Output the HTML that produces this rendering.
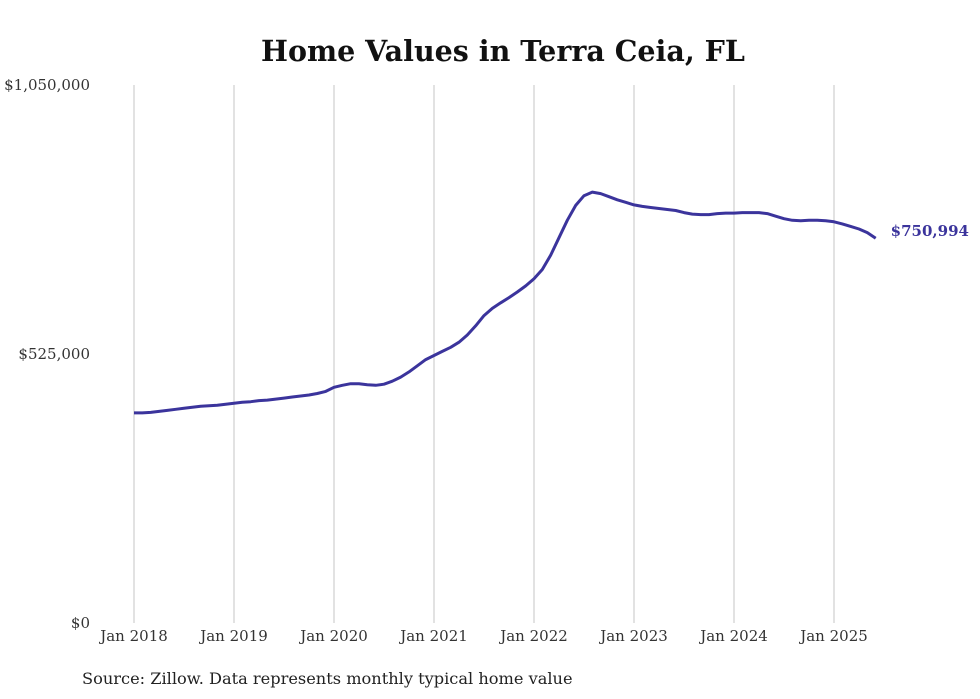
<!DOCTYPE html>
<html><head><meta charset="utf-8"><style>
html,body{margin:0;padding:0;background:#fff;width:980px;height:699px;overflow:hidden}
svg{display:block}
text{font-family:"DejaVu Serif","Liberation Serif",serif}
</style></head><body>
<svg id="chart" width="980" height="699">
<text x="503" y="61" text-anchor="middle" font-size="28.5" font-weight="bold" fill="#111">Home Values in Terra Ceia, FL</text>
<g id="grid"></g><g id="yticks"></g><g id="xticks"></g>
<path id="line" fill="none" stroke="#3b349c" stroke-width="3" stroke-linejoin="round"/>
<text id="endLabel" font-size="15" font-weight="bold" fill="#3b349c"></text>
<text x="82" y="684" font-size="16.2" fill="#222">Source: Zillow. Data represents monthly typical home value</text>
</svg>
<script>
const xTickLabels=["Jan 2018","Jan 2019","Jan 2020","Jan 2021","Jan 2022","Jan 2023","Jan 2024","Jan 2025"];
const yTickValues=[0,525000,1050000];
const yTickLabels=["$0","$525,000","$1,050,000"];
const startYear=2018;
const values=[
410,410,411,413,415,417,419,421,423,424,425,427,
429,431,432,434,435,437,439,441,443,445,448,452,
460,464,467,467,465,464,466,472,480,490,502,514,
522,530,538,548,562,580,600,614,625,635,646,658,
672,690,718,752,786,815,834,841,838,832,826,821,
816,813,811,809,807,805,801,798,797,797,799,800,
800,801,801,801,799,794,789,786,785,786,786,785,
783,779,774,769,762,750.994];
const lastLabel="$750,994";
const NS="http://www.w3.org/2000/svg";
const x=m=>134+m*(100/12);
const y=v=>623-v/1050000*538;
const grid=document.getElementById('grid'),xt=document.getElementById('xticks'),yt=document.getElementById('yticks');
xTickLabels.forEach((l,i)=>{
 const ln=document.createElementNS(NS,'line');
 ln.setAttribute('x1',x(i*12));ln.setAttribute('x2',x(i*12));ln.setAttribute('y1',85);ln.setAttribute('y2',623);
 ln.setAttribute('stroke','#c4c4c4');ln.setAttribute('stroke-width','1');
 
 
 grid.appendChild(ln);
 const t=document.createElementNS(NS,'text');
 t.setAttribute('x',x(i*12));t.setAttribute('y',641);t.setAttribute('text-anchor','middle');
 t.setAttribute('font-size','15');t.setAttribute('fill','#333');t.textContent=l;
 
 
 xt.appendChild(t);
});
yTickValues.forEach((v,i)=>{
 const t=document.createElementNS(NS,'text');
 t.setAttribute('x',90);t.setAttribute('y',y(v)+5);t.setAttribute('text-anchor','end');
 t.setAttribute('font-size','15');t.setAttribute('fill','#333');t.textContent=yTickLabels[i];
 
 
 yt.appendChild(t);
});
let d="";
values.forEach((v,i)=>{d+=(i?"L":"M")+x(i).toFixed(1)+","+y(v*1000).toFixed(1);});
document.getElementById('line').setAttribute('d',d);
const n=values.length-1,el=document.getElementById('endLabel');
el.setAttribute('x',x(n)+15);el.setAttribute('y',y(values[n]*1000)-2);el.textContent=lastLabel;
</script>
</body></html>
